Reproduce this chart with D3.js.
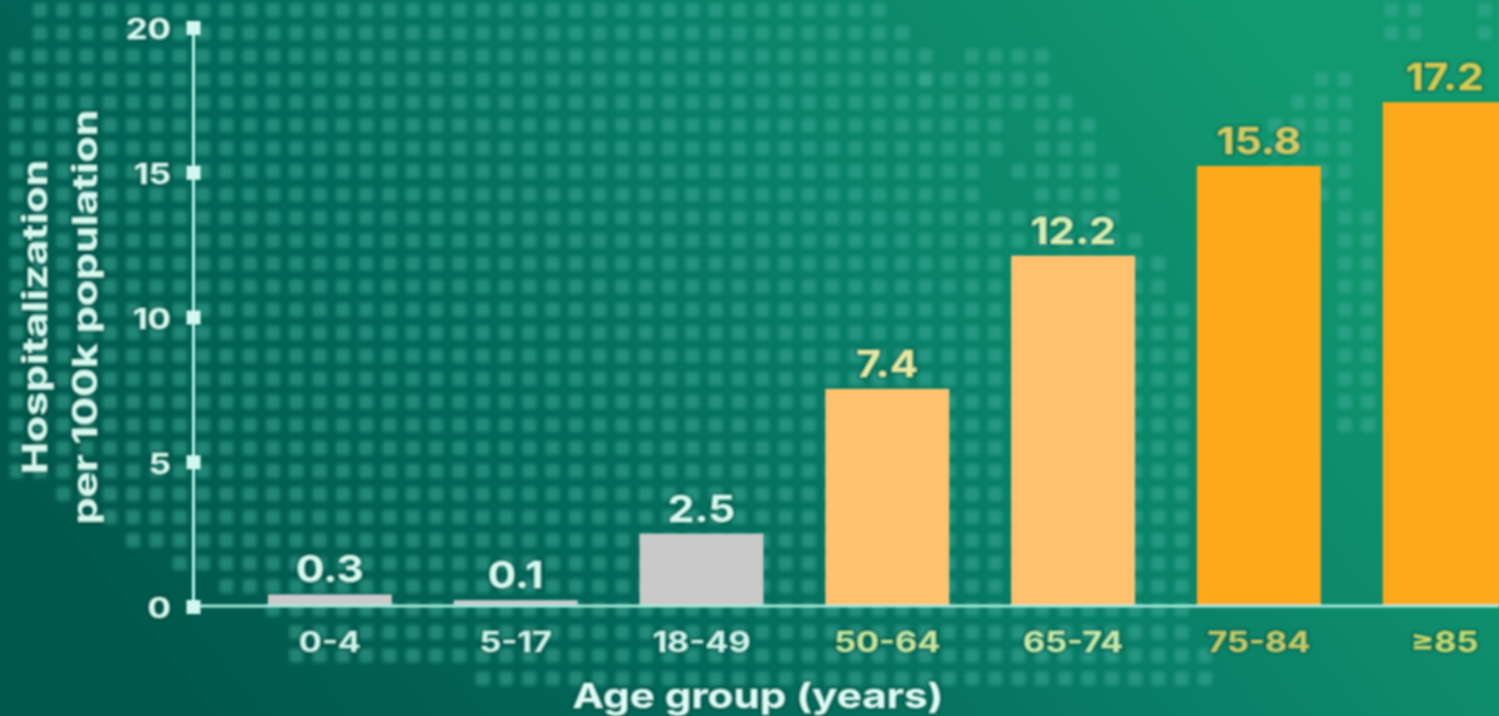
<!DOCTYPE html>
<html><head><meta charset="utf-8">
<script src="https://cdn.jsdelivr.net/npm/d3@7"></script>
<style>html,body{margin:0;padding:0;background:#00594c;overflow:hidden}svg{display:block}text{font-family:Inter,"Noto Sans",sans-serif;paint-order:stroke;stroke:rgba(0,60,50,.28);stroke-width:5px;stroke-linejoin:round}</style>
</head><body><svg id="c" width="1499" height="716"></svg>
<script>
const ageGroups=["0-4","5-17","18-49","50-64","65-74","75-84","≥85"];
const valueLabels=["0.3","0.1","2.5","7.4","12.2","15.8","17.2"];
// bar heights as drawn in the picture, read against the y axis ticks
const barHeights=[0.4,0.2,2.5,7.5,12.1,15.2,17.4];
const barColors=["#c9c9c9","#c9c9c9","#c9c9c9","#fec26e","#fec26e","#fea81c","#fea81c"];
const labelColors=["#d8f8ee","#d8f8ee","#d8f8ee","#e8e6a0","#d8ecb0","#d8c860","#d8c850"];
const tickLabelColors=["#d0f4ea","#d0f4ea","#d0f4ea","#c8e49c","#c8e8a8","#c8c868","#c8d870"];
const yTicks=[0,5,10,15,20];
const yTitleLines=["Hospitalization","per 100k population"];
const xTitle="Age group (years)";
// backdrop dot-map: for each dot row, the horizontal spans that carry dots
const dotRows=[[[30,880],[1380,1425],[1470,1499]],[[30,925],[1380,1425],[1470,1499]],[[10,930],[955,1045]],[[10,930],[915,1050],[1310,1350]],[[10,1085],[1290,1350]],[[10,1000],[1035,1090],[1260,1350]],[[10,1000],[1035,1105],[1260,1350]],[[10,985],[1015,1125],[1260,1350]],[[10,980],[1035,1125],[1260,1350]],[[10,1125],[1330,1380]],[[10,1150],[1330,1380]],[[10,1170],[1330,1380]],[[10,1170],[1330,1380]],[[10,1190],[1330,1380]],[[10,1190],[1330,1380]],[[10,1190],[1330,1380]],[[10,1190],[1330,1380]],[[10,1190],[1330,1380]],[[10,1190],[1330,1380]],[[10,1190]],[[10,1190]],[[60,1190]],[[100,1190]],[[120,1190]],[[170,1190]],[[210,1190]],[[260,1190]],[[280,1190]],[[290,1210]],[[480,1220]]];

const svg=d3.select("#c");
const W=1499,H=716;
const defs=svg.append("defs");
const g=defs.append("linearGradient").attr("id","bg").attr("gradientUnits","userSpaceOnUse")
 .attr("x1",200).attr("y1",760).attr("x2",1200).attr("y2",-40);
[[0,"#00574b"],[.35,"#03695a"],[.65,"#0a8169"],[1,"#12996f"]].forEach(d=>g.append("stop").attr("offset",d[0]).attr("stop-color",d[1]));
defs.append("filter").attr("id","soft").append("feGaussianBlur").attr("stdDeviation",2);
defs.append("filter").attr("id","txt").append("feGaussianBlur").attr("stdDeviation",0.8);
svg.append("rect").attr("width",W).attr("height",H).attr("fill","url(#bg)");

const dots=[];
dotRows.forEach((spans,r)=>spans.forEach(s=>{for(let c=0;c<65;c++){const x=16.7+23.3*c;if(x>=s[0]&&x<=s[1])dots.push([x,10+23.05*r]);}}));
svg.append("g").attr("filter","url(#soft)").selectAll("rect").data(dots).join("rect")
 .attr("x",d=>d[0]-7).attr("y",d=>d[1]-7).attr("width",14).attr("height",14).attr("rx",3)
 .attr("fill","#3fae9b").attr("opacity",.5);

const x=d3.scaleBand().domain(ageGroups).range([237,1537.6]).paddingInner(1/3).paddingOuter(1/6);
const y=d3.scaleLinear().domain([0,20]).range([606,27]);
const root=svg.append("g").attr("filter","url(#txt)");

// the reference type is much wider than any installed face: stretch each text horizontally
function widen(sel,k){sel.each(function(){const n=this.getComputedTextLength();this.setAttribute("textLength",n*k);this.setAttribute("lengthAdjust","spacingAndGlyphs");});}

root.append("g").selectAll("rect").data(ageGroups).join("rect")
 .attr("x",d=>x(d)).attr("width",x.bandwidth())
 .attr("y",(d,i)=>y(barHeights[i])).attr("height",(d,i)=>y(0)-y(barHeights[i]))
 .attr("fill",(d,i)=>barColors[i]);

const xAxis=root.append("g").attr("transform",`translate(0,${y(0)})`).call(d3.axisBottom(x).tickSize(0).tickPadding(26));
xAxis.select(".domain").remove();
root.append("line").attr("x1",193).attr("x2",W).attr("y1",y(0)).attr("y2",y(0)).attr("stroke","#a5eadb").attr("stroke-width",3);
xAxis.selectAll("text").attr("font-size",28).attr("font-weight",700).attr("fill",(d,i)=>tickLabelColors[i]).call(widen,1.22);

const yAxis=root.append("g").attr("transform","translate(193,0)").call(d3.axisLeft(y).tickValues(yTicks).tickSize(0).tickPadding(22));
yAxis.select(".domain").attr("stroke","#b4f5ea").attr("stroke-width",3);
yAxis.selectAll("text").attr("font-size",28).attr("font-weight",700).attr("fill","#d8f8ee").attr("dy","0.42em").call(widen,1.24);
yAxis.selectAll(".tick").append("rect").attr("x",-6.5).attr("y",-6.5).attr("width",14).attr("height",14).attr("fill","#d0f8f0");

root.append("g").selectAll("text").data(valueLabels).join("text")
 .attr("x",(d,i)=>x(ageGroups[i])+x.bandwidth()/2)
 .attr("y",(d,i)=>y(barHeights[i])-12)
 .attr("text-anchor","middle").attr("font-size",37).attr("font-weight",700)
 .attr("fill",(d,i)=>labelColors[i]).text(d=>d).call(widen,1.14);

root.append("text").attr("x",758).attr("y",708).attr("text-anchor","middle").attr("font-size",34).attr("font-weight",700).attr("fill","#e0faf4").text(xTitle).call(widen,1.24);
root.append("g").selectAll("text").data(yTitleLines).join("text")
 .attr("transform",(d,i)=>`translate(${47+i*50},317) rotate(-90)`)
 .attr("text-anchor","middle")
 .attr("font-size",34).attr("font-weight",700).attr("fill","#d8f8ee").text(d=>d).call(widen,1.26);
</script></body></html>
